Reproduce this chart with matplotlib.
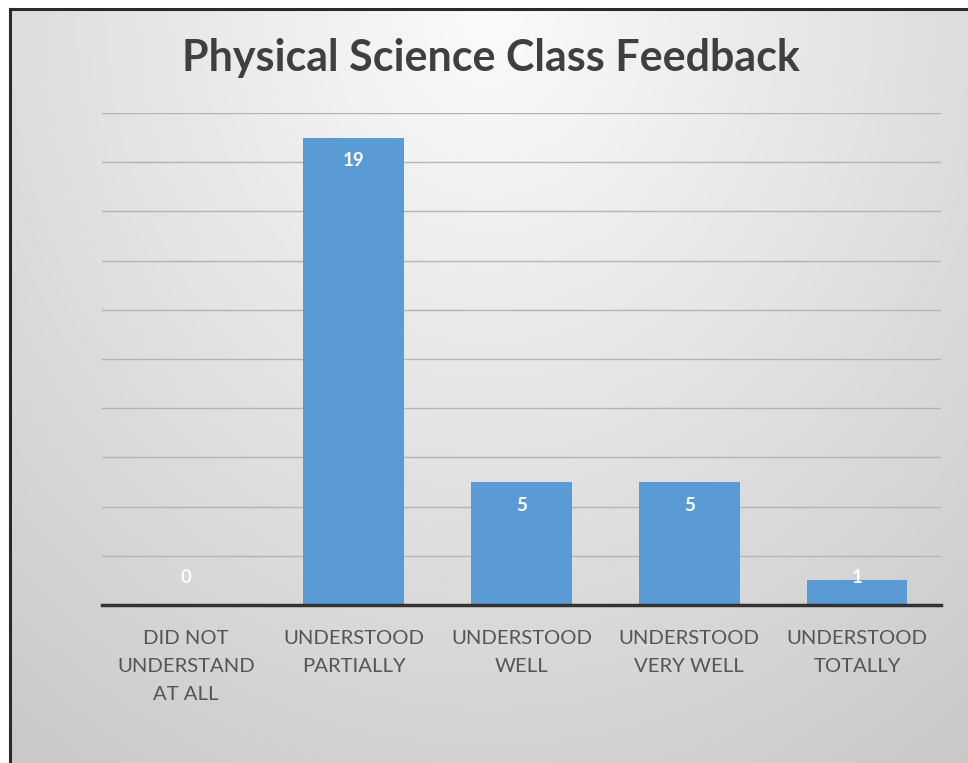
import numpy as np
import matplotlib
matplotlib.use("Agg")
import matplotlib.pyplot as plt

categories = ["DID NOT\nUNDERSTAND\nAT ALL", "UNDERSTOOD\nPARTIALLY", "UNDERSTOOD\nWELL",
              "UNDERSTOOD\nVERY WELL", "UNDERSTOOD\nTOTALLY"]
values = [0, 19, 5, 5, 1]
title = "Physical Science Class Feedback"

W, H = 968, 763
fig = plt.figure(figsize=(W / 100, H / 100), dpi=100)
fig.patch.set_facecolor("white")

# background gradient panel (inside the border)
bg = fig.add_axes([10 / W, 0, 1 - 10 / W, 1 - 9 / H])
bg.set_axis_off()
yy, xx = np.mgrid[0:1:300j, 0:1:300j]
r = np.sqrt(((xx - 0.5) / 0.75) ** 2 + ((yy - 0.0) / 1.1) ** 2)
val = 0.985 - 0.20 * np.clip(r, 0, 1.3) / 1.3 * 1.15
img = np.dstack([val, val, val])
bg.imshow(np.clip(img, 0, 1), extent=[0, 1, 0, 1], origin="upper", aspect="auto")
bg.set_xlim(0, 1)
bg.set_ylim(0, 1)
# border lines (left and top)
fig.add_artist(plt.Line2D([10 / W, 10 / W], [0, 1 - 9 / H], color="#2a2a2a", lw=2.2))
fig.add_artist(plt.Line2D([10 / W, 1], [1 - 9 / H, 1 - 9 / H], color="#2a2a2a", lw=2.2))

ax = fig.add_axes([102 / W, (H - 605) / H, 839 / W, 492 / H])
ax.patch.set_alpha(0)
x = np.arange(len(categories))
ax.bar(x, values, width=0.6, color="#5b9bd5", edgecolor="none", zorder=3)
ax.set_xlim(-0.5, len(categories) - 0.5)
ax.set_ylim(0, 20)
ax.set_yticks(np.arange(0, 21, 2))
ax.yaxis.grid(True, color="#b4b4b4", lw=1.0, zorder=0)
ax.tick_params(axis="y", length=0, labelleft=False)
ax.tick_params(axis="x", length=0, pad=18)
for s in ["top", "right", "left"]:
    ax.spines[s].set_visible(False)
ax.spines["bottom"].set_color("#333333")
ax.spines["bottom"].set_linewidth(2.5)
ax.spines["bottom"].set_zorder(4)
ax.set_xticks(x)
ax.set_xticklabels(categories, fontsize=14.6, color="#555555", family="Lato",
                   linespacing=1.8)

for xi, v in zip(x, values):
    ax.text(xi, max(v - 0.95, 1.12), str(v), ha="center", va="center",
            color="white", fontsize=13.5, fontweight="bold", family="Lato", zorder=5)

fig.text(491 / W, 1 - 58 / H, title, ha="center", va="center", fontsize=31,
         fontweight="bold", color="#3f3f3f", family="Lato")

fig.savefig("out.png", dpi=100)
